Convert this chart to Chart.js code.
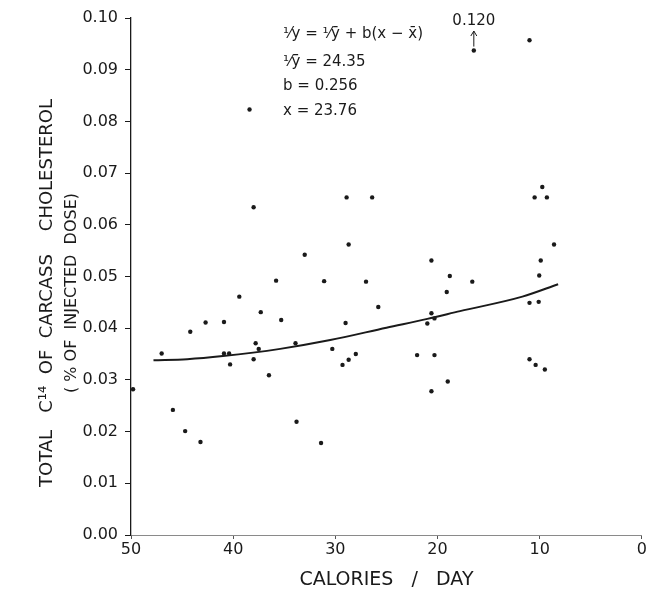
<!DOCTYPE html>
<html><head><meta charset="utf-8">
<script src="https://cdn.jsdelivr.net/npm/chart.js@4/dist/chart.umd.min.js"></script>
<style>html,body{margin:0;padding:0;background:#fff}#wrap{width:648px;height:603px}</style>
</head><body><div id="wrap"><canvas id="c" width="648" height="603"></canvas></div>
<script>
// Individual animals: caloric intake vs. total C14 in carcass cholesterol
const calories = [49.8, 47.0, 45.9, 44.7, 44.2, 43.2, 42.7, 40.9, 40.9, 40.4,
  40.3, 39.4, 38.4, 38.0, 38.0, 37.8, 37.5, 37.3, 36.5, 35.8,
  35.3, 33.9, 33.8, 33.0, 31.4, 31.1, 30.3, 29.3, 29.0, 28.9,
  28.7, 28.7, 28.0, 27.0, 26.4, 25.8, 22.0, 21.0, 20.6, 20.6,
  20.3, 20.3, 20.6, 19.1, 19.0, 18.8, 16.6, 16.45, 11.0, 11.0,
  11.0, 10.4, 10.5, 10.1, 10.05, 9.9, 9.75, 9.5, 9.3, 8.6];
const carcassC14 = [0.0282, 0.0351, 0.0242, 0.0201, 0.0393, 0.0180, 0.0411, 0.0412, 0.0351, 0.0351,
  0.0330, 0.0461, 0.0823, 0.0634, 0.0340, 0.0371, 0.0360, 0.0431, 0.0309, 0.0492,
  0.0416, 0.0371, 0.0219, 0.0542, 0.0178, 0.0491, 0.0360, 0.0329, 0.0410, 0.0653,
  0.0562, 0.0339, 0.0350, 0.0490, 0.0653, 0.0441, 0.0348, 0.0409, 0.0531, 0.0429,
  0.0419, 0.0348, 0.0278, 0.0470, 0.0297, 0.0501, 0.0490, 0.0937, 0.0957, 0.0449,
  0.0340, 0.0329, 0.0653, 0.0451, 0.0502, 0.0531, 0.0673, 0.0320, 0.0653, 0.0562];

// Off-scale animal: plotted at the top with an arrow, true value in the label
const offScaleCalories = 16.45;
const offScaleValue = 0.120;

// Fitted curve, 1/y = 1/ȳ + b(x − x̄)
const fitCalories = [47.8, 44.5, 41.0, 35.4, 30.5, 25.0, 21.0, 17.8, 11.7, 8.2];
const fitC14 = [0.0338, 0.0340, 0.0346, 0.0360, 0.0377, 0.0401, 0.0418, 0.0433, 0.0461, 0.0485];

const fitLines = ['\u00B9\u2044y = \u00B9\u2044y\u0304 + b(x \u2212 x\u0304)', '\u00B9\u2044y\u0304 = 24.35', 'b = 0.256', 'x = 23.76'];

const xTickLabels = ['0', '10', '20', '30', '40', '50'];
const yTickLabels = ['0.00', '0.01', '0.02', '0.03', '0.04', '0.05', '0.06', '0.07', '0.08', '0.09', '0.10'];

const FONT = '"DejaVu Sans", sans-serif';
const INK = '#1a1a1a';

const textPlugin = {
  id: 'figureText',
  afterDraw(chart) {
    const { ctx, scales: { x, y } } = chart;
    ctx.save();
    ctx.fillStyle = INK;
    ctx.strokeStyle = INK;
    ctx.textBaseline = 'middle';

    // vertical axis title, two lines
    ctx.save();
    ctx.translate(47, 293);
    ctx.rotate(-Math.PI / 2);
    ctx.textAlign = 'center';
    ctx.font = '18px ' + FONT;
    ctx.fillText('TOTAL   C\u00B9\u2074  OF  CARCASS    CHOLESTEROL', 0, 0);
    ctx.restore();
    ctx.save();
    ctx.translate(72, 293);
    ctx.rotate(-Math.PI / 2);
    ctx.textAlign = 'center';
    ctx.font = '16px ' + FONT;
    ctx.fillText('( % OF  INJECTED  DOSE)', 0, 0);
    ctx.restore();

    // horizontal axis title
    ctx.textAlign = 'center';
    ctx.font = '19px ' + FONT;
    ctx.fillText('CALORIES   /   DAY', (chart.chartArea.left + chart.chartArea.right) / 2, 580);

    // fit equation block
    ctx.textAlign = 'left';
    ctx.font = '15px ' + FONT;
    const ys = [34, 62, 86, 111];
    fitLines.forEach((t, i) => ctx.fillText(t, 283, ys[i]));

    // off-scale marker: arrow and true value
    const px = x.getPixelForValue(offScaleCalories);
    const py = y.getPixelForValue(carcassC14[calories.indexOf(offScaleCalories)]);
    ctx.lineWidth = 1;
    ctx.beginPath();
    ctx.moveTo(px, py - 4);
    ctx.lineTo(px, 31);
    ctx.moveTo(px - 3, 36);
    ctx.lineTo(px, 31);
    ctx.lineTo(px + 3, 36);
    ctx.stroke();
    ctx.textAlign = 'center';
    ctx.font = '15px ' + FONT;
    ctx.fillText(offScaleValue.toFixed(3), px, 21);
    ctx.restore();
  }
};

new Chart(document.getElementById('c'), {
  type: 'scatter',
  data: {
    datasets: [
      {
        label: 'animals',
        data: calories.map((c, i) => ({ x: c, y: carcassC14[i] })),
        pointRadius: 2.2,
        pointBackgroundColor: INK,
        pointBorderWidth: 0,
        showLine: false
      },
      {
        label: 'fit',
        type: 'line',
        data: fitCalories.map((c, i) => ({ x: c, y: fitC14[i] })),
        borderColor: INK,
        borderWidth: 2,
        pointRadius: 0,
        cubicInterpolationMode: 'monotone',
        fill: false
      }
    ]
  },
  options: {
    responsive: false,
    animation: false,
    devicePixelRatio: 1,
    layout: { padding: { top: 18, right: 5, left: 0, bottom: 0 } },
    plugins: { legend: { display: false }, tooltip: { enabled: false } },
    scales: {
      x: {
        type: 'linear',
        reverse: true,
        min: 0, max: 50,
        afterFit: s => { s.height = 68; },
        border: { color: '#8a8a8a', width: 1 },
        grid: { drawOnChartArea: false, tickLength: 4, color: '#555' },
        ticks: {
          stepSize: 10, padding: 1, color: INK,
          font: { family: FONT, size: 16 },
          callback: v => xTickLabels[Math.round(v / 10)]
        }
      },
      y: {
        min: 0, max: 0.1,
        afterFit: s => { s.width = 131; },
        border: { color: INK, width: 1.3 },
        grid: { drawOnChartArea: false, tickLength: 6, color: INK },
        ticks: {
          stepSize: 0.01, padding: 7, color: INK,
          font: { family: FONT, size: 16 },
          callback: v => yTickLabels[Math.round(v * 100)]
        }
      }
    }
  },
  plugins: [textPlugin]
});
</script>
</body></html>
